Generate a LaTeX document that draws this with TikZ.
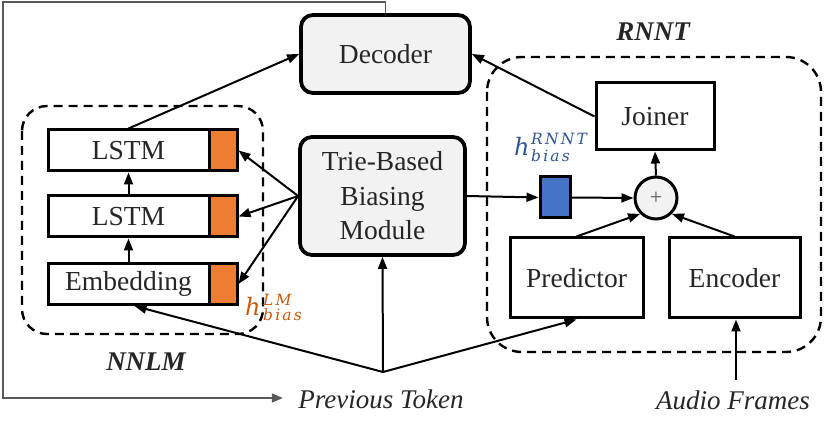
\documentclass[tikz,border=0pt]{standalone}
\usepackage{fontspec}
\setmainfont{Liberation Serif}
\newfontfamily\biaslblfont[LetterSpace=14]{DejaVu Serif}
\usetikzlibrary{arrows.meta,calc}
\definecolor{boxfill}{HTML}{F2F2F2}
\definecolor{orangebox}{HTML}{ED7D31}
\definecolor{orangetxt}{HTML}{C55A11}
\definecolor{bluebox}{HTML}{4472C4}
\definecolor{bluetxt}{HTML}{2F5597}
\definecolor{txt}{HTML}{262626}
\definecolor{loopgray}{HTML}{595959}
\tikzset{
  bigbox/.style={draw, line width=3.8pt, rounded corners=12pt, fill=boxfill, inner sep=0pt, text=txt,
    font=\fontsize{27.5}{34.5}\selectfont, align=center},
  layerbox/.style={draw, line width=3pt, fill=white, inner sep=0pt, text=txt,
    minimum width=161pt, minimum height=41pt, font=\fontsize{27.5}{30}\selectfont},
  orangecell/.style={draw, line width=3pt, fill=orangebox, inner sep=0pt, minimum width=28pt, minimum height=41pt},
  plainbox/.style={draw, line width=3pt, fill=white, inner sep=0pt, text=txt, font=\fontsize{27.5}{30}\selectfont},
  grouprect/.style={draw, line width=2.4pt, dash pattern=on 9pt off 6pt},
  arr/.style={line width=2pt, -{Triangle[length=12pt,width=9pt]}},
  fbline/.style={draw=loopgray, line width=1.4pt, -{Triangle[length=11pt,width=9pt]}},
  lbl/.style={text=txt, font=\fontsize{27}{30}\selectfont\itshape},
  grouplbl/.style={text=txt, font=\fontsize{27}{30}\selectfont\bfseries\itshape},
  hmain/.style={inner sep=0pt, anchor=base west, font=\fontsize{24}{24}\biaslblfont\itshape},
  hscript/.style={inner sep=0pt, anchor=base west, font=\fontsize{15.5}{15.5}\biaslblfont\itshape},
}
\begin{document}
\begin{tikzpicture}[x=1pt,y=-1pt]
\useasboundingbox (0,0) rectangle (830,430);

% group boxes
\draw[grouprect, rounded corners=25pt] (22,106) rectangle (263,334);
\draw[grouprect, rounded corners=35pt] (487,57) rectangle (821,352);
\node[grouplbl] (nnlmlbl) at (146,362) {NNLM};
\node[grouplbl] (rnntlbl) at (653,32) {RNNT};

% main boxes
\node[bigbox, minimum width=169pt, minimum height=78pt] (dec) at (385.5,54) {Decoder};
\node[bigbox, minimum width=165pt, minimum height=118pt] (trie) at (382.5,196) {Trie-Based\\Biasing\\Module};

% NNLM layers
\node[layerbox] (lstma) at (128.5,150.5) {LSTM};
\node[orangecell] (oa) at (223,150.5) {};
\node[layerbox] (lstmb) at (128.5,216.5) {LSTM};
\node[orangecell] (ob) at (223,216.5) {};
\node[layerbox] (emb) at (128.5,284) {Embedding};
\node[orangecell] (oc) at (223,284) {};

% h_bias^LM label
\node[hmain, text=orangetxt] (hlm) at (245,316) {h};
\node[hscript, text=orangetxt] (hlmsup) at (263,306) {LM};
\node[hscript, text=orangetxt] (hlmsub) at (263,320) {bias};

\draw[arr] (emb.north) -- (lstmb.south);
\draw[arr] (lstmb.north) -- (lstma.south);
\draw[arr] (trie.west) -- (oa.east);
\draw[arr] (trie.west) -- (ob.east);
\draw[arr] (trie.west) -- (oc.east);
\draw[arr] (lstma.north) -- (dec.west);

% RNNT
\node[plainbox, minimum width=118pt, minimum height=67pt] (join) at (655,116.5) {Joiner};
\node[draw, circle, line width=3pt, fill=boxfill, minimum size=42pt, inner sep=0pt,
  text=loopgray, font=\fontsize{22}{22}\selectfont] (plus) at (656,198) {+};
\node[draw, line width=3pt, fill=bluebox, minimum width=30pt, minimum height=41pt, inner sep=0pt] (hb) at (555,197.5) {};

% h_bias^RNNT label
\node[hmain, text=bluetxt] (hrn) at (514,156) {h};
\node[hscript, text=bluetxt] (hrnsup) at (531,145) {RNNT};
\node[hscript, text=bluetxt] (hrnsub) at (531,161.5) {bias};

\node[plainbox, minimum width=133pt, minimum height=80pt] (pred) at (576.5,278) {Predictor};
\node[plainbox, minimum width=131pt, minimum height=80pt] (enc) at (734.5,278) {Encoder};

\draw[arr] (trie.east) -- (hb.west);
\draw[arr] (hb.east) -- (plus.west);
\draw[arr] (plus.north) -- (join.south);
\draw[arr] (pred.north) -- (plus.225);
\draw[arr] (enc.north) -- (plus.-45);
\draw[arr] (join.west) -- (dec.east);

% inputs
\node[lbl] (prev) at (381,399) {Previous Token};
\node[lbl] (audio) at (733,400) {Audio Frames};
\coordinate (split) at (383,372);
\coordinate (audiotop) at (736,380);
\draw[arr] (split) -- (trie.south);
\draw[arr] (split) -- ([xshift=6pt]emb.south);
\draw[arr] (split) -- (pred.south);
\draw[arr] (audiotop) -- (enc.south -| audiotop);

% feedback loop
\coordinate (tl) at (3,2);
\coordinate (bl) at (3,398);
\draw[fbline, shorten >=12pt] (dec.north) |- (tl) -- (bl) -- (prev.west |- bl);
\end{tikzpicture}
\end{document}
